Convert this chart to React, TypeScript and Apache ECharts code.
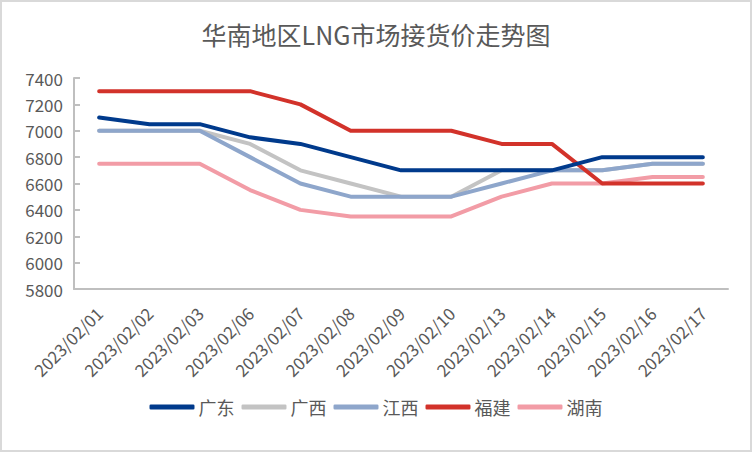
import React, { useEffect, useRef } from "react";
import * as echarts from "echarts";

const categories = [
  "2023/02/01", "2023/02/02", "2023/02/03", "2023/02/06", "2023/02/07",
  "2023/02/08", "2023/02/09", "2023/02/10", "2023/02/13", "2023/02/14",
  "2023/02/15", "2023/02/16", "2023/02/17",
];
const guangdong = [7100, 7050, 7050, 6950, 6900, 6800, 6700, 6700, 6700, 6700, 6800, 6800, 6800];
const guangxi = [7000, 7000, 7000, 6900, 6700, 6600, 6500, 6500, 6700, 6700, 6700, 6750, 6750];
const jiangxi = [7000, 7000, 7000, 6800, 6600, 6500, 6500, 6500, 6600, 6700, 6700, 6750, 6750];
const fujian = [7300, 7300, 7300, 7300, 7200, 7000, 7000, 7000, 6900, 6900, 6600, 6600, 6600];
const hunan = [6750, 6750, 6750, 6550, 6400, 6350, 6350, 6350, 6500, 6600, 6600, 6650, 6650];

const seriesNames = ["广东", "广西", "江西", "福建", "湖南"];
const seriesData = [guangdong, guangxi, jiangxi, fujian, hunan];
const colors = ["#003A8C", "#C3C3C3", "#8EA6CB", "#D2322A", "#F29CA6"];

const FONT = "'Noto Sans CJK SC', 'Noto Sans', sans-serif";

export default function App() {
  const ref = useRef<HTMLDivElement>(null);
  useEffect(() => {
    document.body.style.margin = "0";
    const chart = echarts.init(ref.current!, null, { renderer: "svg" });
    chart.setOption({
      animation: false,
      backgroundColor: "#FFFFFF",
      color: colors,
      title: {
        text: "华南地区LNG市场接货价走势图",
        left: "center",
        top: 16,
        textStyle: { fontFamily: FONT, fontSize: 25, fontWeight: "normal", color: "#595959" },
      },
      graphic: [
        {
          type: "rect",
          shape: { x: 1, y: 1, width: 750, height: 450 },
          style: { fill: "none", stroke: "#D9D9D9", lineWidth: 2 },
          silent: true,
        },
      ],
      legend: {
        bottom: 31,
        left: "center",
        itemWidth: 45,
        itemHeight: 5,
        itemGap: 7,
        icon: "roundRect",
        data: seriesNames,
        textStyle: { fontFamily: FONT, fontSize: 18, color: "#595959", padding: [0, 0, 0, -1] },
      },
      grid: { left: 74, right: 24, top: 78, bottom: 163, containLabel: false },
      xAxis: {
        type: "category",
        data: categories,
        boundaryGap: true,
        axisLine: { lineStyle: { color: "#BFBFBF", width: 2 } },
        axisTick: { inside: true, length: 6, lineStyle: { color: "#BFBFBF", width: 2 } },
        axisLabel: {
          rotate: 45,
          interval: 0,
          margin: 21,
          fontFamily: FONT,
          fontSize: 17,
          color: "#595959",
        },
      },
      yAxis: {
        type: "value",
        min: 5800,
        max: 7400,
        interval: 200,
        axisLine: { show: true, lineStyle: { color: "#BFBFBF", width: 2 } },
        axisTick: { show: true, inside: true, length: 6, lineStyle: { color: "#BFBFBF", width: 2 } },
        splitLine: { show: false },
        axisLabel: {
          fontFamily: FONT,
          fontSize: 17,
          color: "#595959",
          margin: 11,
          formatter: (v: number) => String(v),
        },
      },
      series: seriesNames.map((name, i) => ({
        name,
        type: "line",
        data: seriesData[i],
        symbol: "none",
        lineStyle: { width: 4, color: colors[i], cap: "round", join: "round" },
        z: [5, 2, 3, 4, 1][i],
      })),
    });
    return () => chart.dispose();
  }, []);
  return <div ref={ref} style={{ width: 752, height: 452 }} />;
}
